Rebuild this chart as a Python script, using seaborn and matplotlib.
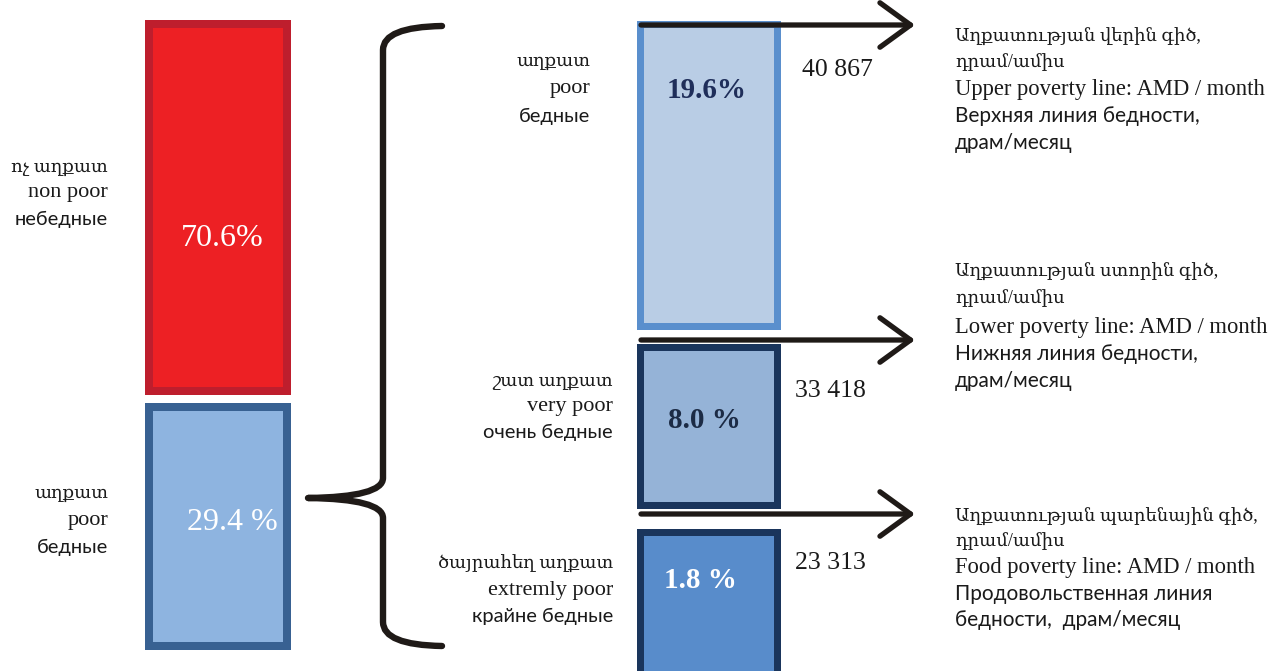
import matplotlib
matplotlib.use("Agg")
import matplotlib.pyplot as plt
from matplotlib.path import Path
from matplotlib.patches import PathPatch, FancyArrowPatch
import seaborn as sns

# Population by poverty status, %
status_hy = ["ոչ աղքատ", "աղքատ"]
status_en = ["non poor", "poor"]
status_ru = ["небедные", "бедные"]
status_share = [70.6, 29.4]
status_sep = ["", " "]

# Breakdown of the poor, %
poor_hy = ["աղքատ", "շատ աղքատ", "ծայրահեղ աղքատ"]
poor_en = ["poor", "very poor", "extremly poor"]
poor_ru = ["бедные", "очень бедные", "крайне бедные"]
poor_share = [19.6, 8.0, 1.8]
poor_sep = ["", " ", " "]

# Poverty lines, AMD per month
line_amd = [40867, 33418, 23313]
line_hy = ["Աղքատության վերին գիծ,", "Աղքատության ստորին գիծ,",
           "Աղքատության պարենային գիծ,"]
line_unit_hy = "դրամ/ամիս"
line_en = ["Upper poverty line: AMD / month", "Lower poverty line: AMD / month",
           "Food poverty line: AMD / month"]
line_ru = [["Верхняя линия бедности,", "драм/месяц"],
           ["Нижняя линия бедности,", "драм/месяц"],
           ["Продовольственная линия", "бедности,  драм/месяц"]]

sns.set_style("white")
SERIF = ["Liberation Serif", "DejaVu Serif", "DejaVu Sans"]
SANS = ["Lato", "DejaVu Sans"]
plt.rcParams["font.family"] = SERIF

W, H = 1284, 671
fig = plt.figure(figsize=(W / 100, H / 100), dpi=100)
fig.patch.set_facecolor("white")


def px_axes(x0, y0, x1, y1, z=1):
    return fig.add_axes([x0 / W, 1 - y1 / H, (x1 - x0) / W, (y1 - y0) / H], zorder=z)


def box(rect, name, value, fill, edge, lw_px):
    ax = px_axes(*rect)
    sns.barplot(x=[name], y=[value], ax=ax, color=fill, saturation=1,
                edgecolor=edge, linewidth=lw_px * 0.72, width=1)
    for p in ax.patches:
        p.set_clip_on(False)
        p.set_joinstyle("miter")
    ax.set_xlim(-0.5, 0.5)
    ax.set_ylim(0, value)
    ax.set_axis_off()
    return ax


# Left column: non poor / poor
left_rects = [(149, 24, 287, 391), (149, 407, 287, 646)]
left_fill = ["#ED2024", "#8EB4E0"]
left_edge = ["#BE1E2D", "#386192"]
for i in range(2):
    box(left_rects[i], status_en[i], status_share[i], left_fill[i], left_edge[i], 8)

# Right column: poor / very poor / extremely poor
right_rects = [(639.5, 23.5, 776.5, 326.5), (639.5, 346.5, 776.5, 504.5),
               (639.5, 531.5, 776.5, 700)]
right_fill = ["#B9CDE5", "#95B3D7", "#588CCB"]
right_edge = ["#5A8FCD", "#1A355C", "#1A355C"]
for i in range(3):
    box(right_rects[i], poor_en[i], poor_share[i], right_fill[i], right_edge[i], 7)

# Overlay layer for text, brace and arrows
ax = fig.add_axes([0, 0, 1, 1], zorder=10)
ax.set_xlim(0, W)
ax.set_ylim(H, 0)
ax.set_axis_off()
ax.patch.set_alpha(0)

INK = "#1A1A1A"
FS_HY, FS_EN, FS_RU = 13, 16, 14.5

# Category labels, left column
left_label_y = [(168, 193, 219), (494, 520, 547)]
for i in range(2):
    yh, ye, yr = left_label_y[i]
    ax.text(108, yh, status_hy[i], ha="right", va="center", fontsize=FS_HY, color=INK, family=SERIF)
    ax.text(108, ye, status_en[i], ha="right", va="center", fontsize=FS_EN, color=INK, family=SERIF)
    ax.text(108, yr, status_ru[i], ha="right", va="center", fontsize=FS_RU, color=INK, family=SANS)

# Share labels inside left boxes
left_pct_pos = [(222, 238), (232, 522)]
for i in range(2):
    ax.text(*left_pct_pos[i], f"{status_share[i]:.1f}{status_sep[i]}%", ha="center", va="center",
            fontsize=23, color="white", family=SERIF)

# Category labels, right column
right_label_x = [590, 613, 613]
right_label_y = [(62, 89, 116), (381, 407, 432), (564, 590, 616)]
for i in range(3):
    yh, ye, yr = right_label_y[i]
    x = right_label_x[i]
    ax.text(x, yh, poor_hy[i], ha="right", va="center", fontsize=FS_HY, color=INK, family=SERIF)
    ax.text(x, ye, poor_en[i], ha="right", va="center", fontsize=FS_EN, color=INK, family=SERIF)
    ax.text(x, yr, poor_ru[i], ha="right", va="center", fontsize=FS_RU, color=INK, family=SANS)

# Share labels inside right boxes
right_pct_pos = [(707, 91), (704, 421), (700, 580)]
right_pct_col = ["#1F2E5A", "#1C2B45", "white"]
for i in range(3):
    ax.text(*right_pct_pos[i], f"{poor_share[i]:.1f}{poor_sep[i]}%", ha="center", va="center",
            fontsize=21, fontweight="bold", color=right_pct_col[i], family=SERIF)

# Poverty line values and arrows
arrow_y = [25, 340, 514]
value_pos = [(802, 70), (795, 391), (795, 563)]
for i in range(3):
    ax.add_patch(FancyArrowPatch((641, arrow_y[i]), (915, arrow_y[i]),
                                 arrowstyle="->,head_length=1.1,head_width=0.8",
                                 mutation_scale=20, lw=3.8, color="#1F1A17",
                                 capstyle="round", joinstyle="round",
                                 shrinkA=0, shrinkB=0))
    ax.text(*value_pos[i], f"{line_amd[i]:,}".replace(",", " "), ha="left", va="center",
            fontsize=18.5, color=INK, family=SERIF)

# Poverty line descriptions
desc_y = [(37, 62, 89, 116, 143), (272, 298, 327, 354, 381), (517, 541, 567, 594, 620)]
for i in range(3):
    y = desc_y[i]
    ax.text(955, y[0], line_hy[i], ha="left", va="center", fontsize=FS_HY, color=INK, family=SERIF)
    ax.text(955, y[1], line_unit_hy, ha="left", va="center", fontsize=FS_HY, color=INK, family=SERIF)
    ax.text(955, y[2], line_en[i], ha="left", va="center", fontsize=16.3, color=INK, family=SERIF)
    ax.text(955, y[3], line_ru[i][0], ha="left", va="center", fontsize=15, color=INK, family=SANS)
    ax.text(955, y[4], line_ru[i][1], ha="left", va="center", fontsize=15, color=INK, family=SANS)

# Curly brace grouping the poor
verts = [(442, 26), (383, 27), (383, 50),
         (383, 478),
         (383, 497), (308, 498),
         (383, 499), (383, 518),
         (383, 622),
         (383, 645), (442, 646)]
codes = [Path.MOVETO, Path.CURVE3, Path.CURVE3,
         Path.LINETO,
         Path.CURVE3, Path.CURVE3,
         Path.CURVE3, Path.CURVE3,
         Path.LINETO,
         Path.CURVE3, Path.CURVE3]
ax.add_patch(PathPatch(Path(verts, codes), facecolor="none", edgecolor="#1F1A17",
                       lw=4.6, capstyle="round", joinstyle="round"))

fig.savefig("out.png", dpi=100, facecolor="white")
